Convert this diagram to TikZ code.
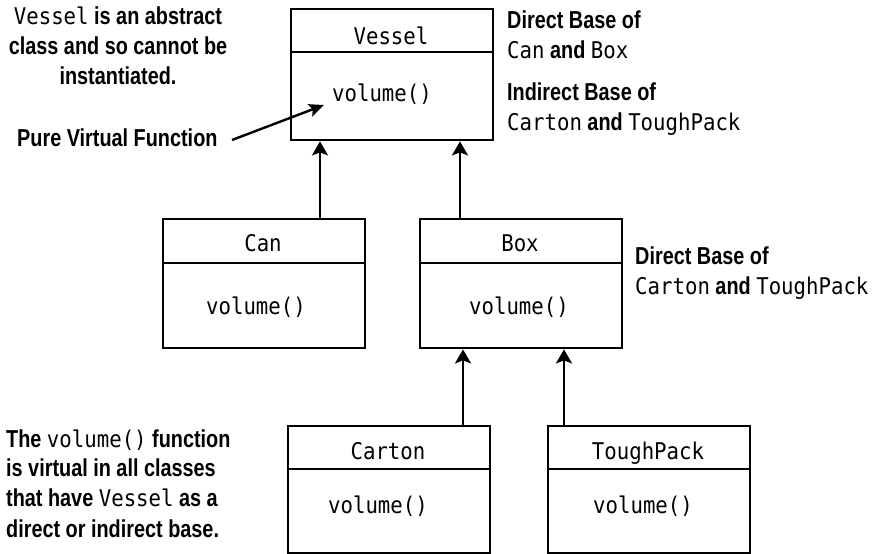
\documentclass[tikz,border=0pt]{standalone}
\usepackage{fontspec}
\setmainfont[FakeStretch=0.81]{Liberation Sans}
\setmonofont[FakeStretch=0.9]{DejaVu Sans Mono}
\usetikzlibrary{arrows.meta}
\newcommand\mycode[1]{{\mdseries\ttfamily\fontsize{23}{30}\selectfont #1}}
\tikzset{
  lbl/.style={font=\fontsize{24.5}{30}\selectfont\bfseries, inner sep=0pt, anchor=base},
  lblw/.style={lbl, anchor=base west},
  code/.style={font=\fontsize{23}{26}\selectfont\ttfamily, inner sep=0pt, anchor=base},
  cls/.style={draw, line width=2.4pt, inner sep=0pt, anchor=north west, minimum width=202pt},
  divline/.style={line width=2.4pt},
  inh/.style={line width=2.4pt, -{Stealth[length=14pt,width=16pt,inset=3pt]}},
  ptr/.style={line width=2.4pt, -{Stealth[length=15pt,width=13pt,inset=3pt]}},
}
\begin{document}
\begin{tikzpicture}[x=1pt,y=-1pt]
\useasboundingbox (0,0) rectangle (876,554);

% class boxes
\node[cls, minimum height=131pt] (vessel) at (290,8) {};
\node[cls, minimum height=129pt] (can) at (162,218) {};
\node[cls, minimum height=129pt] (box) at (419,218) {};
\node[cls, minimum height=127pt] (carton) at (287,425) {};
\node[cls, minimum height=127pt] (tough) at (547,425) {};

% dividers
\draw[divline] ([yshift=-44pt]vessel.north west) -- ([yshift=-44pt]vessel.north east);
\draw[divline] ([yshift=-45pt]can.north west) -- ([yshift=-45pt]can.north east);
\draw[divline] ([yshift=-45pt]box.north west) -- ([yshift=-45pt]box.north east);
\draw[divline] ([yshift=-44pt]carton.north west) -- ([yshift=-44pt]carton.north east);
\draw[divline] ([yshift=-44pt]tough.north west) -- ([yshift=-44pt]tough.north east);

% class texts
\node[code] (vname) at (391,45) {Vessel};
\node[code] (vvol) at (382,101) {volume()};
\node[code] (cname) at (263,251) {Can};
\node[code] (cvol) at (256,314) {volume()};
\node[code] (bname) at (520,251) {Box};
\node[code] (bvol) at (519,314) {volume()};
\node[code] (crname) at (388,459) {Carton};
\node[code] (crvol) at (378,513) {volume()};
\node[code] (tname) at (648,459) {ToughPack};
\node[code] (tvol) at (643,513) {volume()};

% inheritance arrows
\coordinate (x1) at (320,0);
\coordinate (x2) at (460,0);
\coordinate (x3) at (463,0);
\coordinate (x4) at (564,0);
\draw[inh] (x1 |- can.north) -- (x1 |- vessel.south);
\draw[inh] (x2 |- box.north) -- (x2 |- vessel.south);
\draw[inh] (x3 |- carton.north) -- (x3 |- box.south);
\draw[inh] (x4 |- tough.north) -- (x4 |- box.south);

% annotations
\node[lbl] (t1) at (118,24) {\mycode{Vessel} is an abstract};
\node[lbl] (t2) at (118,54) {class and so cannot be};
\node[lbl] (t3) at (118,84) {instantiated.};

\node[lblw] (pvf) at (17,146) {Pure Virtual Function};
\coordinate (pstart) at (232,140);
\coordinate (pend) at (324,105);
\draw[ptr] (pstart) -- (pend);

\node[lblw] (r1) at (507,28) {Direct Base of};
\node[lblw] (r2) at (507,58) {\mycode{Can} and \mycode{Box}};
\node[lblw] (r3) at (507,100) {Indirect Base of};
\node[lblw] (r4) at (507,130) {\mycode{Carton} and \mycode{ToughPack}};

\node[lblw] (m1) at (635,264) {Direct Base of};
\node[lblw] (m2) at (635,294) {\mycode{Carton} and \mycode{ToughPack}};

\node[lblw] (b1) at (6,447) {The \mycode{volume()} function};
\node[lblw] (b2) at (6,476) {is virtual in all classes};
\node[lblw] (b3) at (6,506) {that have \mycode{Vessel} as a};
\node[lblw] (b4) at (6,537) {direct or indirect base.};
\end{tikzpicture}
\end{document}
